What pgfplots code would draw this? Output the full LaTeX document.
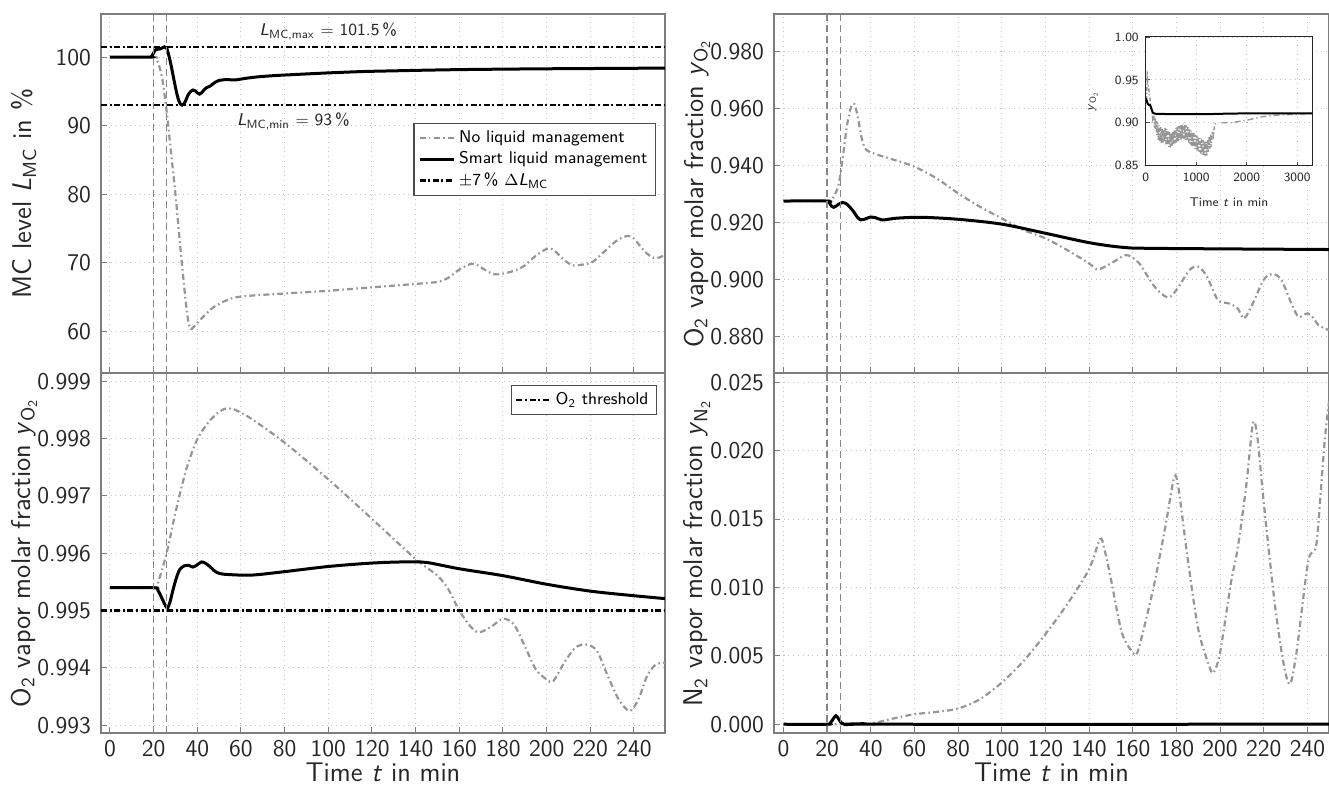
\documentclass[border=0pt]{standalone}
\usepackage{fontspec}
\usepackage{pgfplots}
\pgfplotsset{compat=1.18}

\definecolor{nolm}{RGB}{150,150,150}
\definecolor{axisc}{RGB}{125,125,125}
\definecolor{gridc}{RGB}{195,195,195}
\definecolor{vlinec}{RGB}{135,135,135}

\newcommand{\ticksize}{\fontsize{12}{14}\selectfont\sffamily}
\newcommand{\labsize}{\fontsize{13.5}{16}\selectfont\sffamily}
\newcommand{\smallsize}{\fontsize{8.5}{10}\selectfont\sffamily}
\newcommand{\insetsize}{\fontsize{6.3}{7.5}\selectfont\sffamily}
\newcommand{\yOtwo}{\textit{y}\textsubscript{O\textsubscript{2}}}
\newcommand{\yNtwo}{\textit{y}\textsubscript{N\textsubscript{2}}}
\newcommand{\tmin}{Time \textit{t} in min}

\pgfplotsset{
  panel/.style={
    scale only axis, anchor=south west,
    xtick={0,20,...,240},
    grid=major, grid style={dotted, gridc, line width=0.5pt},
    axis line style={axisc, line width=0.8pt},
    tick style={axisc, line width=0.5pt}, tick align=inside,
    major tick length=3pt, xtick pos=bottom, ytick pos=left,
    scaled x ticks=false, scaled y ticks=false,
    /pgf/number format/assume math mode=true,
    /pgf/number format/1000 sep={},
    tick label style={font=\ticksize, text=black!85},
    yticklabel style={xshift=-1.5pt},
    every axis y label/.style={at={([xshift=-38.5pt]axis description cs:0,0.5)},
      rotate=90, anchor=center, font=\labsize, text=black!85},
    every axis x label/.style={at={([yshift=-19.5pt]axis description cs:0.5,0)},
      anchor=center, font=\labsize, text=black!85},
    legend cell align=left,
    legend style={font=\smallsize, draw=black!70, line width=0.6pt, fill=white,
      inner xsep=2pt, inner ysep=1.5pt, row sep=-1pt},
  },
  leftpanel/.style={panel, width=282pt, xmin=-4.1, xmax=254.2},
  rightpanel/.style={panel, width=277.5pt, xmin=-4.35, xmax=249.9},
  nolmline/.style={nolm, line width=1.1pt, dash pattern=on 3pt off 1.6pt on 0.8pt off 1.6pt},
  smartline/.style={black, line width=1.5pt},
  thresh/.style={black, line width=1.2pt, dash pattern=on 3pt off 1.3pt on 1pt off 1.3pt},
  vline/.style={vlinec, line width=0.7pt, dash pattern=on 3.5pt off 2pt},
}

\begin{document}
\begin{tikzpicture}
\useasboundingbox (0,0) rectangle (664.5pt,392.5pt);

% ---------------- MC level ----------------
\begin{axis}[leftpanel, at={(50.5pt,206pt)}, height=179.5pt,
  ymin=53.9, ymax=106.3, ytick={60,70,...,100}, xticklabels={},
  ylabel={MC level \textit{L}\textsubscript{MC} in \%},
  legend style={at={(0.984,0.696)}, anchor=north east}]
\addplot[nolmline, smooth] coordinates {
(0,100)(20,100)(21,99.8)(22,99.2)(23,98.2)(24,96.8)(25,94.5)(26,92)(27,89)(28,86)
(30,80)(32,73)(34,66.5)(35,63.5)(36,61.2)(37,60.3)(38,60.5)(40,61.2)(43,62.2)(47,63.4)
(52,64.3)(57,64.9)(65,65.2)(80,65.5)(100,65.9)(120,66.4)(140,66.9)(150,67.2)(155,67.8)
(160,69.0)(165,69.8)(168,69.7)(172,68.9)(176,68.3)(180,68.4)(186,68.9)(190,69.6)(195,71.0)
(200,72.0)(203,71.9)(208,70.4)(212,69.6)(216,69.7)(221,70.1)(226,71.5)(232,73.2)(237,73.9)
(240,73.5)(245,71.6)(249,70.7)(252,70.8)(254.2,71.2)};
\addlegendentry{No liquid management}
\addplot[smartline, smooth] coordinates {
(0,100)(18,100)(19,100.1)(20,100.6)(21,101.1)(23,101.2)(25,101.5)(26,101.3)(27,100.2)
(28,98.8)(29,97.2)(30,95.6)(31,94.2)(32,93.3)(33,93.0)(34,93.2)(35,93.9)(36,94.6)(37,95.0)
(38,95.2)(39,95.1)(40,94.8)(41,94.6)(42,94.8)(43,95.2)(44,95.5)(46,95.8)(48,96.3)(50,96.6)
(52,96.7)(55,96.7)(58,96.7)(62,96.9)(67,97.1)(75,97.3)(87,97.5)(100,97.7)(116,97.9)
(130,98.0)(145,98.1)(165,98.2)(200,98.3)(254.2,98.4)};
\addlegendentry{Smart liquid management}
\addplot[thresh] coordinates {(-4.1,101.5)(254.2,101.5)};
\addlegendentry{$\pm$7\,\% $\Delta$\textit{L}\textsubscript{MC}}
\addplot[thresh, forget plot] coordinates {(-4.1,93)(254.2,93)};
\addplot[vline, forget plot] coordinates {(20,53.9)(20,106.3)};
\addplot[vline, forget plot] coordinates {(26,53.9)(26,106.3)};
\node[font=\smallsize, text=black!85] at (axis cs:100,103.8)
  {\textit{L}\textsubscript{MC,max} $=$ 101.5\,\%};
\node[font=\smallsize, text=black!85] at (axis cs:84,90.6)
  {\textit{L}\textsubscript{MC,min} $=$ 93\,\%};
\end{axis}

% ---------------- O2 fraction, left ----------------
\begin{axis}[leftpanel, at={(50.5pt,26pt)}, height=180pt,
  ymin=0.992866, ymax=0.999145,
  ytick={0.993,0.994,0.995,0.996,0.997,0.998,0.999},
  yticklabel style={/pgf/number format/.cd, fixed, fixed zerofill, precision=3},
  xlabel={\tmin},
  ylabel={O\textsubscript{2} vapor molar fraction \yOtwo},
  legend style={at={(0.986,0.967)}, anchor=north east}]
\addplot[nolmline, smooth, forget plot] coordinates {
(0,0.99540)(20,0.99540)(22,0.99549)(26,0.99601)(30,0.99671)(35,0.99747)(40,0.99799)
(45,0.99828)(50,0.99847)(54,0.99853)(58,0.99849)(65,0.99834)(80,0.99793)(100,0.99729)
(120,0.99660)(140,0.99590)(150,0.99561)(155,0.99537)(160,0.99500)(165,0.99473)
(169,0.99462)(175,0.99473)(180,0.99486)(185,0.99476)(190,0.99438)(195,0.99398)
(200,0.99380)(203,0.99377)(208,0.99409)(213,0.99435)(218,0.99441)(223,0.99430)
(228,0.99386)(233,0.99345)(238,0.99325)(242,0.99345)(246,0.99386)(250,0.99406)(254.2,0.99409)};
\addplot[smartline, smooth, forget plot] coordinates {
(0,0.99540)(20,0.99540)(22,0.99535)(24,0.99520)(25.5,0.99508)(26.5,0.99505)(27.5,0.99515)
(29,0.99538)(30.5,0.99558)(32,0.99572)(34,0.99578)(36,0.99579)(38,0.99576)(40,0.99580)
(42,0.99585)(44,0.99582)(46,0.99576)(48,0.99569)(50,0.99565)(54,0.99563)(65,0.99562)
(80,0.99568)(100,0.99577)(120,0.99583)(135,0.99585)(145,0.99584)(160,0.99573)
(180,0.99561)(200,0.99546)(220,0.99534)(240,0.99526)(254.2,0.99521)};
\addplot[thresh] coordinates {(-4.1,0.995)(254.2,0.995)};
\addlegendentry{O\textsubscript{2} threshold}
\addplot[vline, forget plot] coordinates {(20,0.992866)(20,0.999145)};
\addplot[vline, forget plot] coordinates {(26,0.992866)(26,0.999145)};
\end{axis}

% ---------------- O2 fraction, right ----------------
\begin{axis}[rightpanel, at={(387pt,206pt)}, height=179.5pt,
  ymin=0.8673, ymax=0.9932, ytick={0.88,0.90,...,0.981},
  yticklabel style={/pgf/number format/.cd, fixed, fixed zerofill, precision=3},
  xticklabels={},
  ylabel={O\textsubscript{2} vapor molar fraction \yOtwo}]
\addplot[nolmline, smooth] coordinates {
(0,0.9276)(20,0.9276)(22,0.92795)(25,0.9326)(27,0.9420)(29,0.9537)(31,0.9607)(32.5,0.9616)
(34,0.9572)(36,0.9490)(38,0.9455)(42,0.9441)(50,0.9422)(60,0.93965)(70,0.9356)(80,0.9303)
(90,0.9256)(100,0.92152)(110,0.91743)(120,0.9145)(130,0.9104)(140,0.90573)(144,0.90363)
(150,0.90573)(155,0.90807)(158,0.90854)(163,0.9057)(170,0.89754)(176,0.8938)(180,0.8964)
(186,0.9034)(190,0.90456)(194,0.9011)(199,0.89287)(204,0.8917)(208,0.8900)(211,0.88643)
(215,0.8917)(220,0.9000)(224,0.9020)(228,0.9000)(233,0.8911)(236,0.8870)(240,0.8882)
(243,0.8864)(245,0.8841)(249.9,0.8823)};
\addplot[smartline, smooth] coordinates {
(0,0.9276)(20,0.9276)(21,0.9270)(22,0.9258)(23,0.9254)(24,0.9258)(25.5,0.9266)(27,0.9271)
(28.5,0.9268)(30,0.9258)(32,0.9240)(34,0.9218)(35.5,0.9210)(37,0.9212)(40,0.9220)
(42,0.9218)(45,0.9210)(48,0.9212)(52,0.9216)(63,0.9219)(80,0.9212)(100,0.9195)
(120,0.9163)(140,0.9130)(155,0.9114)(170,0.9110)(249.9,0.9106)};
\addplot[vline] coordinates {(20,0.8673)(20,0.9932)};
\addplot[vline] coordinates {(26,0.8673)(26,0.9932)};
\end{axis}

% ---------------- inset: long horizon ----------------
\begin{axis}[scale only axis, anchor=south west, at={(572.85pt,309.65pt)},
  width=83.3pt, height=64.35pt,
  xmin=0, xmax=3300, ymin=0.85, ymax=1.00,
  xtick={0,1000,2000,3000}, ytick={0.85,0.90,0.95,1.00},
  scaled x ticks=false, scaled y ticks=false,
  /pgf/number format/assume math mode=true,
  /pgf/number format/1000 sep={},
  yticklabel style={/pgf/number format/.cd, fixed, fixed zerofill, precision=2},
  axis background/.style={fill=white},
  grid=major, grid style={dotted, gridc, line width=0.4pt},
  axis line style={black!85, line width=0.5pt},
  tick style={black!70, line width=0.4pt}, tick align=inside, major tick length=2pt,
  xtick pos=bottom, ytick pos=left,
  tick label style={font=\insetsize, text=black!85},
  xlabel={\tmin}, ylabel={\yOtwo},
  every axis y label/.style={at={([xshift=-26.3pt]axis description cs:0,0.5)},
    rotate=90, anchor=center, font=\insetsize, text=black!85},
  every axis x label/.style={at={([yshift=-18.5pt]axis description cs:0.5,0)},
    anchor=center, font=\insetsize, text=black!85}]
\addplot[nolm, line width=0.7pt, dash pattern=on 2pt off 1pt on 0.6pt off 1pt] coordinates {
(0,0.9276)(20,0.9276)(30,0.960)(40,0.945)(60,0.940)(80,0.930)(100,0.920)(120,0.914)
(140,0.904)(160,0.909)(175,0.894)(190,0.905)(200,0.893)(210,0.902)(220,0.886)(235,0.901)
(250,0.880)(265,0.897)(280,0.878)(295,0.895)(310,0.876)(325,0.894)(340,0.877)(355,0.892)
(370,0.878)(385,0.894)(400,0.875)(415,0.893)(430,0.874)(445,0.890)(460,0.872)(475,0.889)
(490,0.871)(505,0.888)(520,0.873)(535,0.890)(550,0.875)(565,0.892)(580,0.876)(595,0.894)
(610,0.877)(625,0.895)(640,0.878)(655,0.896)(670,0.880)(685,0.897)(700,0.880)(715,0.898)
(730,0.882)(745,0.899)(760,0.881)(775,0.898)(790,0.880)(805,0.897)(820,0.879)(835,0.895)
(850,0.877)(865,0.893)(880,0.875)(895,0.891)(910,0.873)(925,0.889)(940,0.872)(955,0.888)
(970,0.870)(985,0.886)(1000,0.869)(1015,0.885)(1030,0.867)(1045,0.884)(1060,0.866)
(1075,0.882)(1090,0.864)(1105,0.881)(1120,0.863)(1135,0.880)(1150,0.862)(1165,0.879)
(1180,0.861)(1195,0.878)(1210,0.862)(1225,0.880)(1240,0.866)(1255,0.884)(1270,0.870)
(1285,0.887)(1300,0.872)(1320,0.890)(1340,0.885)(1360,0.895)(1380,0.900)};
\addplot[nolm, line width=0.7pt, dash pattern=on 3pt off 1.5pt on 0.6pt off 1.5pt] coordinates {
(1500,0.900)(1700,0.900)(2000,0.903)(2300,0.907)(2600,0.909)(3000,0.910)(3300,0.911)};
\addplot[black, line width=1pt] coordinates {
(0,0.9285)(20,0.926)(40,0.922)(60,0.921)(80,0.921)(100,0.919)(120,0.915)(140,0.912)
(160,0.911)(200,0.9105)(400,0.9102)(800,0.910)(1200,0.910)(1500,0.9105)(2000,0.911)(3300,0.911)};
\end{axis}

% ---------------- N2 fraction ----------------
\begin{axis}[rightpanel, at={(387pt,26pt)}, height=180pt,
  ymin=-0.00064, ymax=0.02568, ytick={0,0.005,...,0.0251},
  yticklabel style={/pgf/number format/.cd, fixed, fixed zerofill, precision=3},
  xlabel={\tmin},
  ylabel={N\textsubscript{2} vapor molar fraction \yNtwo}]
\addplot[nolmline, smooth] coordinates {
(0,0)(38,0)(40,0.00002)(50,0.00041)(60,0.00073)(70,0.00090)(80,0.00115)(90,0.00183)
(100,0.00305)(110,0.00463)(120,0.00659)(130,0.00878)(140,0.01134)(145,0.01354)(147,0.0128)
(150,0.0106)(155,0.0067)(160,0.00524)(162,0.0052)(165,0.00695)(170,0.01037)(175,0.01451)
(179,0.01805)(181,0.0172)(185,0.0123)(190,0.00695)(195,0.00427)(197,0.00378)(200,0.00524)
(205,0.01037)(208,0.0128)(212,0.01744)(215,0.02195)(217,0.0211)(220,0.01622)(225,0.0089)
(229,0.00451)(232,0.00293)(235,0.00524)(239,0.01037)(241,0.0123)(244,0.01305)(246,0.0167)
(248,0.02085)(249.9,0.0236)};
\addplot[smartline, smooth] coordinates {
(0,0)(20,0)(21.5,0.0001)(23,0.00045)(24,0.00062)(25,0.00045)(26.5,0.0001)(28,-0.00002)
(32,0)(36,0.00004)(38,0.00003)(42,0)(249.9,0)};
\addplot[vline] coordinates {(20,-0.00064)(20,0.02568)};
\addplot[vline] coordinates {(26,-0.00064)(26,0.02568)};
\end{axis}
\end{tikzpicture}
\end{document}
